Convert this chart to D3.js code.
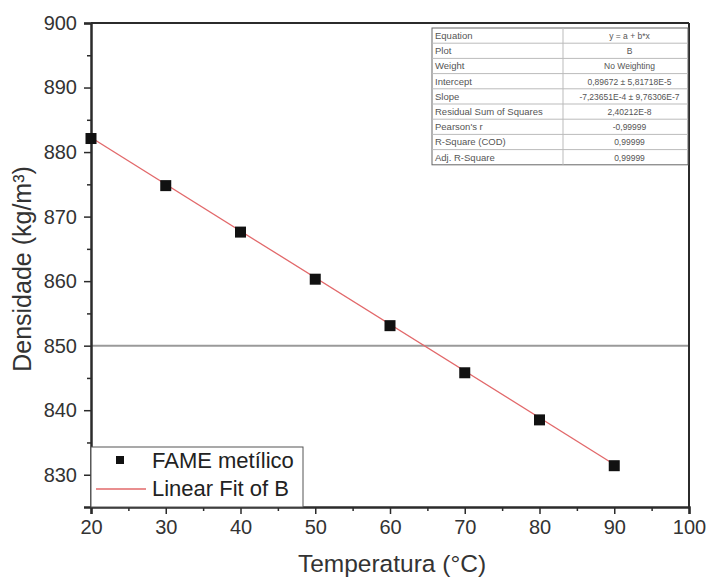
<!DOCTYPE html>
<html>
<head>
<meta charset="utf-8">
<script src="https://cdn.jsdelivr.net/npm/d3@7"></script>
<style>
  html, body { margin: 0; padding: 0; background: #fff; }
  svg { display: block; font-family: "Liberation Sans", Arial, sans-serif; }
</style>
</head>
<body>
<svg id="chart" width="710" height="579"></svg>
<script>
// Measured density of the methyl FAME versus temperature
const temperatures = [20, 30, 40, 50, 60, 70, 80, 90];
const densities = [882.1, 874.8, 867.6, 860.3, 853.1, 845.8, 838.5, 831.4];

// Linear fit (kg/m³): density = intercept + slope * T
const fitIntercept = 896.72;
const fitSlope = -0.723651;

const xTicks = [20, 30, 40, 50, 60, 70, 80, 90, 100];
const yTicks = [830, 840, 850, 860, 870, 880, 890, 900];
const referenceLevel = [850];

const legendLabels = ["FAME metílico", "Linear Fit of B"];

const statNames = ["Equation", "Plot", "Weight", "Intercept", "Slope",
  "Residual Sum of Squares", "Pearson's r", "R-Square (COD)", "Adj. R-Square"];
const statValues = ["y = a + b*x", "B", "No Weighting", "0,89672 ± 5,81718E-5",
  "-7,23651E-4 ± 9,76306E-7", "2,40212E-8", "-0,99999", "0,99999", "0,99999"];

const svg = d3.select("#chart");
const plotLeft = 91, plotRight = 689, plotTop = 23, plotBottom = 507;

const x = d3.scaleLinear().domain([20, 100]).range([plotLeft, plotRight]);
const y = d3.scaleLinear().domain([825, 900]).range([plotBottom, plotTop]);

const axisColor = "#2b2b2b";
const textColor = "#333";

// horizontal reference line
svg.selectAll("line.ref").data(referenceLevel).enter().append("line")
  .attr("class", "ref")
  .attr("x1", plotLeft).attr("x2", plotRight)
  .attr("y1", d => y(d)).attr("y2", d => y(d))
  .attr("stroke", "#9a9a9a").attr("stroke-width", 2);

// frame (top and right)
svg.append("line").attr("x1", plotLeft).attr("x2", plotRight).attr("y1", plotTop).attr("y2", plotTop)
  .attr("stroke", axisColor).attr("stroke-width", 2);
svg.append("line").attr("x1", plotRight).attr("x2", plotRight).attr("y1", plotTop).attr("y2", plotBottom)
  .attr("stroke", axisColor).attr("stroke-width", 2);

// bottom axis
const xAxis = svg.append("g").attr("transform", `translate(0,${plotBottom})`)
  .call(d3.axisBottom(x).tickValues(xTicks).tickSize(7).tickPadding(4).tickFormat(d3.format("d")));
svg.append("g").attr("transform", `translate(0,${plotBottom})`)
  .call(d3.axisBottom(x).tickValues(d3.range(25, 100, 10)).tickSize(4).tickFormat(""))
  .call(g => g.select(".domain").remove());

// left axis
const yAxis = svg.append("g").attr("transform", `translate(${plotLeft},0)`)
  .call(d3.axisLeft(y).tickValues(yTicks).tickSize(7).tickPadding(7).tickFormat(d3.format("d")));
svg.append("g").attr("transform", `translate(${plotLeft},0)`)
  .call(d3.axisLeft(y).tickValues(d3.range(835, 900, 10)).tickSize(4).tickFormat(""))
  .call(g => g.select(".domain").remove());

svg.selectAll(".domain").attr("stroke", axisColor).attr("stroke-width", 2.5);
svg.selectAll(".tick line").attr("stroke", axisColor).attr("stroke-width", 1.5);
svg.selectAll(".tick text").attr("fill", textColor).attr("font-size", 20)
  .attr("font-family", "Liberation Sans, Arial, sans-serif");
xAxis.selectAll(".tick text").attr("dy", "0.8em");

// axis titles
svg.append("text").attr("x", 392).attr("y", 572)
  .attr("text-anchor", "middle").attr("font-size", 24.5).attr("fill", textColor)
  .text("Temperatura (°C)");
svg.append("text").attr("transform", `translate(31,269) rotate(-90)`)
  .attr("text-anchor", "middle").attr("font-size", 25).attr("fill", textColor)
  .text("Densidade (kg/m³)");

// fit line
const fitDomain = d3.extent(temperatures);
svg.append("line")
  .attr("x1", x(fitDomain[0])).attr("y1", y(fitIntercept + fitSlope * fitDomain[0]))
  .attr("x2", x(fitDomain[1])).attr("y2", y(fitIntercept + fitSlope * fitDomain[1]))
  .attr("stroke", "#e2686a").attr("stroke-width", 1.3);

// data points
const sq = 11;
svg.selectAll("rect.pt").data(temperatures).enter().append("rect")
  .attr("class", "pt")
  .attr("x", (d) => x(d) - sq / 2)
  .attr("y", (d, i) => y(densities[i]) - sq / 2)
  .attr("width", sq).attr("height", sq)
  .attr("fill", "#111");

// legend
const lg = svg.append("g");
lg.append("rect").attr("x", plotLeft).attr("y", 447).attr("width", 212).attr("height", plotBottom - 447)
  .attr("fill", "#fff").attr("stroke", "#555").attr("stroke-width", 1);
lg.append("rect").attr("x", 116).attr("y", 456).attr("width", 8).attr("height", 8).attr("fill", "#111");
lg.append("line").attr("x1", 96).attr("x2", 146).attr("y1", 489).attr("y2", 489)
  .attr("stroke", "#e2686a").attr("stroke-width", 1.5);
lg.selectAll("text").data(legendLabels).enter().append("text")
  .attr("x", 152).attr("y", (d, i) => 468 + i * 28)
  .attr("font-size", 22).attr("fill", "#222").text(d => d);

// statistics table
const tx = 432, tw = 256, ty = 28, rh = 15.2, col = 563;
const tbl = svg.append("g");
tbl.append("rect").attr("x", tx).attr("y", ty).attr("width", tw).attr("height", rh * statNames.length)
  .attr("fill", "#fff").attr("stroke", "#666").attr("stroke-width", 1);
tbl.selectAll("line.row").data(d3.range(1, statNames.length)).enter().append("line")
  .attr("x1", tx).attr("x2", tx + tw)
  .attr("y1", d => ty + d * rh).attr("y2", d => ty + d * rh)
  .attr("stroke", "#bbb").attr("stroke-width", 1);
tbl.append("line").attr("x1", col).attr("x2", col).attr("y1", ty).attr("y2", ty + rh * statNames.length)
  .attr("stroke", "#bbb").attr("stroke-width", 1);
tbl.selectAll("text.name").data(statNames).enter().append("text")
  .attr("x", tx + 3).attr("y", (d, i) => ty + i * rh + 11)
  .attr("font-size", 9.5).attr("fill", "#555").text(d => d);
tbl.selectAll("text.val").data(statValues).enter().append("text")
  .attr("x", (col + tx + tw) / 2 + 4).attr("y", (d, i) => ty + i * rh + 11)
  .attr("text-anchor", "middle").attr("font-size", 8.5).attr("fill", "#555").text(d => d);
</script>
</body>
</html>
